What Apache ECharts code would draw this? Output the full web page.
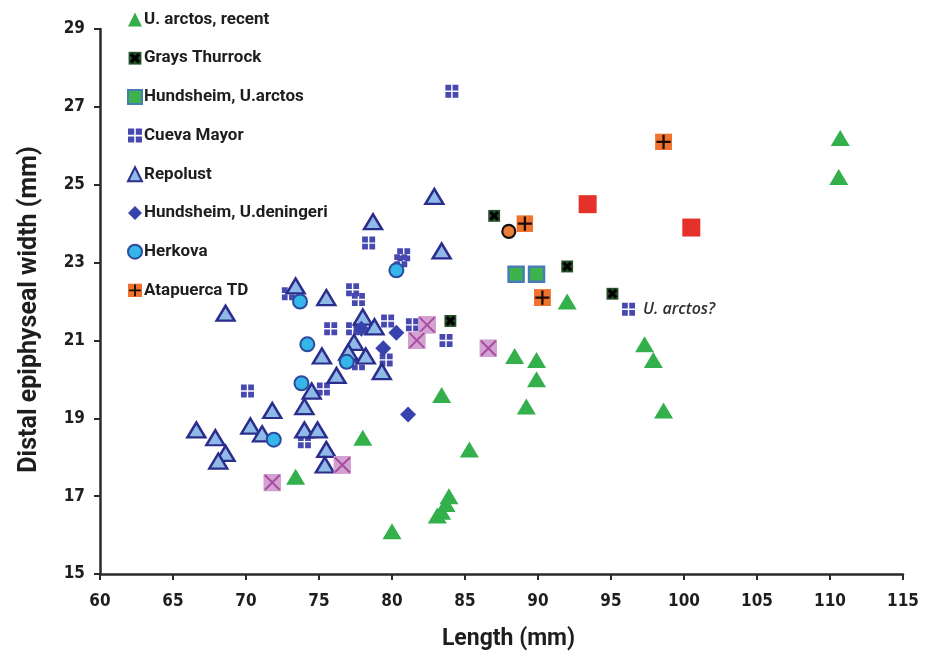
<!DOCTYPE html>
<html>
<head>
<meta charset="utf-8">
<script src="https://cdn.jsdelivr.net/npm/echarts@6/dist/echarts.min.js"></script>
<style>
  html, body { margin: 0; padding: 0; background: #ffffff; }
  #chart { width: 928px; height: 662px; }
</style>
</head>
<body>
<div id="chart"></div>
<script>
// Distal humerus measurements: [length (mm), distal epiphyseal width (mm)]
const arctosRecent = [
  [110.7, 26.2], [110.6, 25.2], [78.0, 18.5], [85.3, 18.2], [73.4, 17.5], [80.0, 16.1],
  [83.9, 17.0], [83.7, 16.8], [83.4, 16.6], [83.1, 16.5], [88.4, 20.6], [89.9, 20.5],
  [89.9, 20.0], [89.2, 19.3], [97.3, 20.9], [97.9, 20.5], [98.6, 19.2], [92.0, 22.0],
  [83.4, 19.6]
];
const graysThurrock = [[87.0, 24.2], [92.0, 22.9], [95.1, 22.2], [84.0, 21.5]];
const hundsheimArctos = [[88.5, 22.7], [89.9, 22.7]];
const cuevaMayor = [
  [84.1, 27.4], [83.7, 21.0], [78.4, 23.5], [80.8, 23.2], [80.6, 23.05],
  [72.9, 22.2], [77.3, 22.3], [77.7, 22.05], [75.8, 21.3], [77.3, 21.3], [79.7, 21.5],
  [81.4, 21.4], [79.6, 20.5], [75.3, 19.75], [70.1, 19.7], [74.0, 18.4], [77.7, 20.4]
];
// specimen flagged as a possible U. arctos
const cuevaQuery = [96.2, 21.8];
const cuevaQueryLabel = 'U. arctos?';
const repolust = [
  [68.6, 21.7], [71.8, 19.2], [66.6, 18.7], [67.9, 18.5], [68.6, 18.1], [68.1, 17.9],
  [70.3, 18.8], [71.1, 18.6], [82.9, 24.7], [78.7, 24.05], [83.4, 23.3], [73.4, 22.4],
  [75.5, 22.1], [78.0, 21.6], [78.8, 21.35], [77.4, 20.95], [75.2, 20.6], [78.2, 20.6],
  [77.0, 20.7], [79.3, 20.2], [76.2, 20.1], [74.5, 19.7], [74.0, 19.3], [74.0, 18.7],
  [74.9, 18.7], [75.5, 18.2], [75.4, 17.8]
];
const hundsheimDeningeri = [[80.3, 21.2], [79.4, 20.8], [77.9, 21.3], [81.1, 19.1]];
const herkova = [[80.3, 22.8], [73.7, 22.0], [74.2, 20.9], [76.9, 20.45], [73.8, 19.9], [71.9, 18.45]];
const atapuercaTD = [[89.1, 24.0], [90.3, 22.1], [98.6, 26.1]];
const redSquares = [[93.4, 24.5], [100.5, 23.9]];
const orangeCircle = [[88.0, 23.8]];
const mauveCrosses = [[82.4, 21.4], [81.7, 21.0], [86.6, 20.8], [76.6, 17.8], [71.8, 17.35]];

const xTicks = { min: 60, max: 115, step: 5 };
const yTicks = { min: 15, max: 29, step: 2 };

const seriesNames = [
  'U. arctos, recent', 'Grays Thurrock', 'Hundsheim, U.arctos', 'Cueva Mayor',
  'Repolust', 'Hundsheim, U.deningeri', 'Herkova', 'Atapuerca TD'
];

function svgSymbol(svg) {
  return 'image://data:image/svg+xml;charset=utf-8,' + encodeURIComponent(svg);
}
const symGrays = svgSymbol("<svg xmlns='http://www.w3.org/2000/svg' width='24' height='24' viewBox='0 0 24 24'><rect x='1' y='1' width='22' height='22' fill='#24502a'/><path d='M5 5L19 19M19 5L5 19' stroke='#020202' stroke-width='6'/></svg>");
const symAtapuerca = svgSymbol("<svg xmlns='http://www.w3.org/2000/svg' width='24' height='24' viewBox='0 0 24 24'><rect x='0' y='0' width='24' height='24' fill='#f0722f'/><path d='M12 2V22M2 12H22' stroke='#1a0c05' stroke-width='3.2'/></svg>");
const symMauve = svgSymbol("<svg xmlns='http://www.w3.org/2000/svg' width='24' height='24' viewBox='0 0 24 24'><rect x='0' y='0' width='24' height='24' fill='#d4a2d2'/><path d='M2 2L22 22M22 2L2 22' stroke='#a64b9e' stroke-width='2.6'/></svg>");
const symCueva = 'path://M0,0h4v4h-4z M5,0h4v4h-4z M0,5h4v4h-4z M5,5h4v4h-4z';

const tickFont = "'Liberation Sans Narrow', 'DejaVu Sans Condensed', 'Arial Narrow', sans-serif";
const textFont = "Roboto, 'Noto Sans', sans-serif";

const chart = echarts.init(document.getElementById('chart'), null, { renderer: 'canvas' });

const solid = { opacity: 1 };

chart.setOption({
  animation: false,
  backgroundColor: '#ffffff',
  grid: { left: 100, right: 25, top: 29, bottom: 88, containLabel: false },
  legend: {
    data: seriesNames,
    orient: 'vertical',
    left: 122,
    top: 6,
    itemWidth: 14,
    itemHeight: 14,
    itemGap: 21.7,
    textStyle: { fontFamily: textFont, fontSize: 17, fontWeight: 'bold', color: '#1e1e1e', padding: [0, 0, 0, -3] },
    selectedMode: false
  },
  xAxis: {
    type: 'value',
    min: xTicks.min, max: xTicks.max, interval: xTicks.step,
    name: 'Length (mm)',
    nameLocation: 'middle',
    nameGap: 54,
    nameTextStyle: { fontFamily: textFont, fontSize: 23, fontWeight: 'bold', color: '#1e1e1e', padding: [0, 0, 0, 14] },
    axisLine: { lineStyle: { color: '#2a2a2a', width: 2.5 } },
    axisTick: { show: true, length: 6, lineStyle: { color: '#2a2a2a', width: 2 } },
    axisLabel: { fontFamily: tickFont, fontSize: 17, fontWeight: 'bold', color: '#1e1e1e', margin: 19 },
    splitLine: { show: false }
  },
  yAxis: {
    type: 'value',
    min: yTicks.min, max: yTicks.max, interval: yTicks.step,
    name: 'Distal epiphyseal width (mm)',
    nameLocation: 'middle',
    nameRotate: 90,
    nameGap: 58,
    nameTextStyle: { fontFamily: textFont, fontSize: 25, fontWeight: 'bold', color: '#1e1e1e', padding: [0, 16, 0, 0] },
    axisLine: { lineStyle: { color: '#2a2a2a', width: 2.5 } },
    axisTick: { show: true, length: 6, lineStyle: { color: '#2a2a2a', width: 2 } },
    axisLabel: { fontFamily: tickFont, fontSize: 17, fontWeight: 'bold', color: '#1e1e1e', margin: 15 },
    splitLine: { show: false }
  },
  series: [
    {
      name: 'Cueva Mayor', type: 'scatter', symbol: symCueva, symbolSize: 13,
      itemStyle: { color: '#4749b0', opacity: 1 },
      data: cuevaMayor.concat([{
        value: cuevaQuery,
        label: {
          show: true, position: 'right', distance: 8, formatter: cuevaQueryLabel,
          fontFamily: "'Open Sans', Roboto, sans-serif", fontStyle: 'italic', fontWeight: 600, fontSize: 16, color: '#2e2e2e'
        }
      }])
    },
    {
      name: 'Repolust', type: 'scatter', symbol: 'triangle', symbolSize: [18, 15],
      itemStyle: { color: '#8fb9e6', borderColor: '#2b2d8c', borderWidth: 2.4, opacity: 1 },
      data: repolust
    },
    {
      name: 'Hundsheim, U.deningeri', type: 'scatter', symbol: 'diamond', symbolSize: [16, 16],
      itemStyle: { color: '#3742ad', opacity: 1 },
      data: hundsheimDeningeri
    },
    {
      name: 'Herkova', type: 'scatter', symbol: 'circle', symbolSize: 14,
      itemStyle: { color: '#35b6ea', borderColor: '#2d4a9c', borderWidth: 2, opacity: 1 },
      data: herkova
    },
    {
      name: 'mauve', type: 'scatter', symbol: symMauve, symbolSize: 18,
      itemStyle: solid,
      data: mauveCrosses
    },
    {
      name: 'U. arctos, recent', type: 'scatter', symbol: 'triangle', symbolSize: [19, 16],
      itemStyle: { color: '#33b04c', opacity: 1 },
      data: arctosRecent
    },
    {
      name: 'Grays Thurrock', type: 'scatter', symbol: symGrays, symbolSize: 13,
      itemStyle: solid,
      data: graysThurrock
    },
    {
      name: 'Hundsheim, U.arctos', type: 'scatter', symbol: 'rect', symbolSize: 15,
      itemStyle: { color: '#3cb44b', borderColor: '#4a7cb4', borderWidth: 2.5, opacity: 1 },
      data: hundsheimArctos
    },
    {
      name: 'red', type: 'scatter', symbol: 'rect', symbolSize: 18,
      itemStyle: { color: '#e6302a', opacity: 1 },
      data: redSquares
    },
    {
      name: 'orange', type: 'scatter', symbol: 'circle', symbolSize: 13,
      itemStyle: { color: '#ee7d3a', borderColor: '#111111', borderWidth: 2.2, opacity: 1 },
      data: orangeCircle
    },
    {
      name: 'Atapuerca TD', type: 'scatter', symbol: symAtapuerca, symbolSize: 17,
      itemStyle: solid,
      data: atapuercaTD
    }
  ]
});
</script>
</body>
</html>
